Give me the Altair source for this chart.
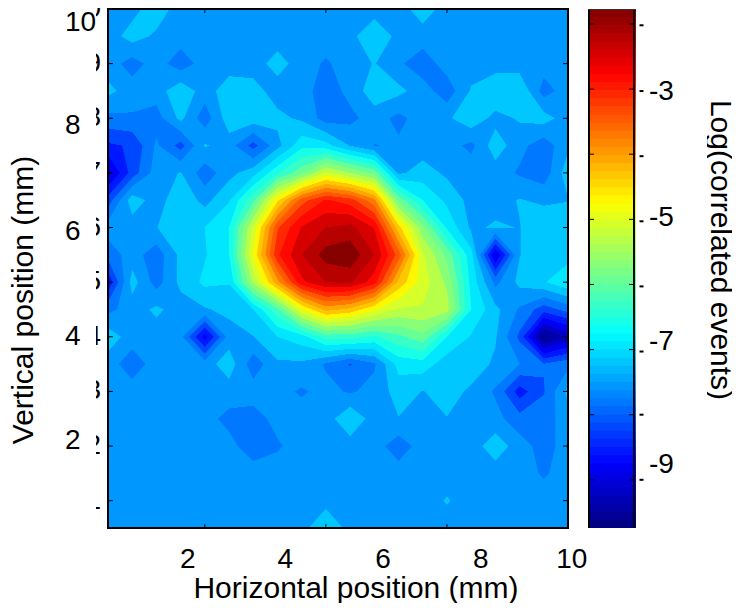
import math
import altair as alt
import pandas as pd

alt.data_transformers.disable_max_rows()

# Log(correlated events), read on a 20 x 20 grid; rows top (10 mm) to bottom (0.5 mm)
Z = [
 [-7.65,-7.6,-7.3,-7.65,-7.65,-7.65,-7.65,-7.65,-7.65,-7.65,-7.65,-7.65,-7.65,-7.3,-7.65,-7.65,-7.65,-7.65,-7.65,-7.65],
 [-7.65,-7.35,-7.55,-7.65,-7.65,-7.65,-7.65,-7.65,-7.65,-7.65,-7.6,-7.2,-7.6,-7.65,-7.65,-7.65,-7.65,-7.65,-7.65,-7.65],
 [-7.65,-7.95,-7.65,-8.0,-7.65,-7.65,-7.65,-7.35,-7.65,-7.85,-7.65,-7.47,-7.75,-8.0,-7.65,-7.65,-7.65,-7.65,-7.65,-7.65],
 [-7.4,-7.65,-7.65,-7.25,-7.65,-7.3,-7.35,-7.65,-7.65,-8.0,-7.7,-7.3,-7.4,-7.65,-8.0,-7.45,-7.2,-7.2,-7.95,-7.65],
 [-7.9,-7.85,-7.95,-7.4,-8.0,-7.3,-7.3,-7.4,-7.55,-7.95,-7.9,-7.65,-7.9,-7.65,-7.55,-7.25,-7.6,-7.45,-7.35,-7.65],
 [-8.5,-8.4,-7.75,-8.25,-7.45,-7.65,-8.25,-7.6,-6.95,-7.05,-7.5,-7.82,-7.75,-7.65,-7.65,-7.9,-7.3,-7.7,-8.0,-7.55],
 [-9.2,-8.3,-7.65,-7.47,-8.0,-7.6,-7.3,-6.6,-6.0,-5.2,-5.6,-6.0,-7.55,-7.35,-7.55,-7.6,-7.65,-7.85,-8.0,-7.3],
 [-8.3,-7.3,-7.65,-7.25,-7.6,-7.2,-6.3,-4.7,-3.5,-3.0,-3.2,-3.9,-6.0,-6.85,-7.25,-7.6,-7.6,-7.47,-7.55,-7.5],
 [-7.65,-7.65,-7.5,-7.25,-7.17,-6.85,-5.2,-3.4,-2.7,-2.4,-2.3,-2.75,-4.5,-5.8,-6.9,-7.55,-7.45,-7.5,-7.25,-7.3],
 [-8.0,-7.65,-8.0,-7.4,-7.2,-6.85,-4.9,-3.1,-2.41,-1.95,-1.85,-2.41,-3.5,-5.2,-6.0,-7.05,-9.1,-7.5,-7.25,-7.3],
 [-8.7,-7.35,-7.95,-7.4,-7.1,-7.15,-5.5,-4.1,-2.8,-2.4,-2.35,-2.9,-4.4,-5.1,-5.65,-6.95,-7.9,-7.4,-7.2,-6.9],
 [-7.9,-7.65,-7.42,-7.65,-7.52,-7.4,-7.17,-6.3,-4.95,-4.2,-4.4,-4.9,-5.3,-5.3,-5.45,-6.85,-7.4,-7.85,-8.3,-8.0],
 [-7.3,-7.65,-7.65,-7.7,-8.9,-7.65,-7.5,-7.17,-7.0,-6.4,-6.4,-6.6,-6.3,-6.0,-6.85,-7.2,-7.45,-8.2,-9.8,-9.3],
 [-7.65,-8.0,-7.65,-7.65,-7.65,-7.3,-8.0,-7.55,-7.55,-7.85,-8.15,-7.85,-7.05,-7.0,-7.35,-7.3,-7.55,-7.8,-8.1,-7.9],
 [-7.65,-7.65,-7.65,-7.65,-7.65,-7.65,-7.65,-7.7,-7.85,-7.7,-7.85,-7.7,-7.35,-7.5,-7.35,-7.55,-7.85,-8.6,-8.15,-7.4],
 [-7.65,-7.65,-7.65,-7.65,-7.7,-7.9,-7.95,-7.7,-7.65,-7.65,-7.2,-7.65,-7.5,-7.65,-7.5,-7.65,-7.7,-8.0,-7.95,-7.65],
 [-7.65,-7.65,-7.65,-7.65,-7.65,-7.7,-8.0,-7.85,-7.65,-7.65,-7.65,-7.65,-8.0,-7.65,-7.65,-7.65,-7.3,-7.65,-7.95,-7.65],
 [-7.65,-7.65,-7.65,-7.65,-7.65,-7.65,-7.65,-7.65,-7.65,-7.65,-7.65,-7.65,-7.65,-7.65,-7.65,-7.65,-7.65,-7.65,-7.85,-7.65],
 [-7.65,-7.65,-7.65,-7.65,-7.65,-7.65,-7.65,-7.65,-7.65,-7.65,-7.65,-7.65,-7.65,-7.65,-7.46,-7.65,-7.65,-7.65,-7.65,-7.65],
 [-7.65,-7.65,-7.65,-7.65,-7.65,-7.65,-7.65,-7.65,-7.65,-7.1,-7.65,-7.65,-7.65,-7.65,-7.65,-7.65,-7.65,-7.65,-7.65,-7.65],
]

x_ticks = [2.5, 5, 7.5, 10]
y_ticks = [1, 2, 3, 4, 5, 6, 7, 8, 9, 10]
x_labels = ["2", "4", "6", "8", "10"]
x_label_pos = [2.15, 4.16, 6.18, 8.2, 10.08]
y_labels = ["10", "8", "6", "4", "2"]
y_label_pos = [9.75, 7.85, 5.91, 4.0, 2.1]
cb_ticks = [-2, -3, -4, -5, -6, -7, -8, -9]
cb_dashes = [-2.02, -3.03, -4.03, -5.03, -6.03, -7.03, -8.0, -9.0]
cb_labels = ["-3", "-5", "-7", "-9"]
cb_label_pos = [-3.05, -4.98, -6.89, -8.78]

W, H = 460, 519
DOM = [0.5, 10]
CB = [-9.74, -1.77]
TOP_LEVEL, STEP, NBANDS = -2.09, 0.3176, 25
FONT = "Liberation Sans"
FS, TS = 28, 30


def jet(k):
    """MATLAB jet with 64 entries, k = 1..64."""
    t = (k - 0.5) / 64
    f = lambda a: max(0.0, min(1.0, a))
    r, g, b = f(min(4*t - 1.5, -4*t + 4.5)), f(min(4*t - 0.5, -4*t + 3.5)), f(min(4*t + 0.5, -4*t + 2.5))
    return "#%02x%02x%02x" % (round(r*255), round(g*255), round(b*255))


def band_colour(j):
    return jet(max(1, round(64 - 2.55 * j)))


def cell_polygons(i, j, level):
    """Marching-squares region z >= level inside cell (i, j), in grid units."""
    corners = [(i, j), (i+1, j), (i+1, j+1), (i, j+1)]
    vals = [Z[b][a] for a, b in corners]

    def cross(n, m):
        t = (level - vals[n]) / (vals[m] - vals[n])
        a, b = corners[n], corners[m]
        return (a[0] + t*(b[0]-a[0]), a[1] + t*(b[1]-a[1]))

    high = [v >= level for v in vals]
    if high[0] == high[2] and high[1] == high[3] and high[0] != high[1] and sum(vals) / 4 < level:
        out = []
        for n in range(4):
            if high[n]:
                out.append([corners[n], cross(n, (n+1) % 4), cross(n, (n+3) % 4)])
        return out
    pts = []
    for n in range(4):
        m = (n+1) % 4
        if high[n]:
            pts.append(corners[n])
        if high[n] != high[m]:
            pts.append(cross(n, m))
    return [pts]


def scan(pts, r):
    xs_ = []
    m = len(pts)
    for n in range(m):
        (x0, y0), (x1, y1) = pts[n], pts[(n+1) % m]
        if (y0 <= r) != (y1 <= r):
            xs_.append(x0 + (r - y0) / (y1 - y0) * (x1 - x0))
    xs_.sort()
    return [(xs_[n], xs_[n+1]) for n in range(0, len(xs_) - 1, 2)]


# filled contours: per level the cell polygons, swept into horizontal runs
levels = [TOP_LEVEL - j * STEP for j in range(NBANDS)]
polys = {}
for lj, lv in enumerate(levels):
    cells = {}
    for j in range(19):
        row_cells = []
        for i in range(19):
            vals = [Z[j][i], Z[j][i+1], Z[j+1][i], Z[j+1][i+1]]
            if max(vals) >= lv:
                row_cells += cell_polygons(i, j, lv)
        cells[j] = row_cells
    polys[lj] = cells

rows = []
for py in range(H):
    r = (py + 0.5) / H * 19
    jr = min(int(r), 18)
    y0 = round(10 - py / H * 9.5, 3)
    y1 = round(10 - min(py + 1.3, H) / H * 9.5, 3)
    painted = [(NBANDS, [(0.0, 19.0)])]
    for lj in range(NBANDS - 1, -1, -1):
        ivs = []
        for poly in polys[lj][jr]:
            ivs += scan(poly, r)
        ivs.sort()
        merged = []
        for a, b in ivs:
            if merged and a <= merged[-1][1] + 1e-6:
                merged[-1] = (merged[-1][0], max(b, merged[-1][1]))
            else:
                merged.append((a, b))
        if not merged:
            continue
        if merged[0][0] <= 1e-6 and merged[-1][1] >= 19 - 1e-6 and len(merged) == 1:
            painted = []
        painted.append((lj, merged))
    for lj, merged in painted:
        c = band_colour(lj)
        for a, b in merged:
            rows.append(dict(x=round(0.5 + a * 0.5, 3), x2=round(0.5 + b * 0.5, 3), y=y0, y2=y1, c=c))
field = pd.DataFrame(rows)

xs = alt.Scale(domain=DOM, nice=False, zero=False)
ys = alt.Scale(domain=DOM, nice=False, zero=False)
cs = alt.Scale(domain=CB, nice=False, zero=False)

contours = alt.Chart(field).mark_rect(strokeWidth=0).encode(
    x=alt.X("x:Q", scale=xs, axis=None), x2="x2:Q",
    y=alt.Y("y:Q", scale=ys, axis=None), y2="y2:Q",
    color=alt.Color("c:N", scale=None),
)

ydf = pd.DataFrame({"v": y_ticks, "t": [str(v) for v in y_ticks]})
xdf = pd.DataFrame({"v": x_ticks})
frag = alt.Chart(ydf).mark_text(font=FONT, fontSize=FS, align="right", baseline="middle", color="black", clip=False).encode(
    x=alt.value(-7), y=alt.Y("v:Q", scale=ys, axis=None), text="t:N")
cover = alt.Chart(ydf).mark_rect(color="white").encode(
    x=alt.value(-100), x2=alt.value(-12), y=alt.value(-2), y2=alt.value(560))

tick = lambda a, b: alt.Chart(ydf).mark_rule(color="black", strokeWidth=1).encode(
    x=alt.value(a), x2=alt.value(b), y=alt.Y("v:Q", scale=ys, axis=None))
ytick_l, ytick_r = tick(0, 5), tick(455, 460)
xtick = lambda a, b: alt.Chart(xdf).mark_rule(color="black", strokeWidth=1).encode(
    x=alt.X("v:Q", scale=xs, axis=None), y=alt.value(a), y2=alt.value(b))
xtick_t, xtick_b = xtick(0, 4), xtick(515, 519)

frame = alt.Chart(ydf).mark_rect(fillOpacity=0, stroke="black", strokeWidth=1.6).encode(
    x=alt.value(0), x2=alt.value(W), y=alt.value(0), y2=alt.value(H))

xl = alt.Chart(pd.DataFrame({"v": x_label_pos, "t": x_labels})).mark_text(
    font=FONT, fontSize=FS, align="center", baseline="middle", color="black").encode(
    x=alt.X("v:Q", scale=xs, axis=None), y=alt.value(551), text="t:N")
yl = alt.Chart(pd.DataFrame({"v": y_label_pos, "t": y_labels})).mark_text(
    font=FONT, fontSize=FS, align="left", baseline="middle", color="black").encode(
    x=alt.value(-43), y=alt.Y("v:Q", scale=ys, axis=None), text="t:N")

# colour bar
edges = [CB[0] + (CB[1] - CB[0]) * i / 64 for i in range(65)]
bar = alt.Chart(pd.DataFrame({
    "a": edges[:-1], "b": [min(e + 0.03, CB[1]) for e in edges[1:]], "c": [jet(k) for k in range(1, 65)]
})).mark_rect(strokeWidth=0).encode(
    x=alt.value(481), x2=alt.value(528),
    y=alt.Y("a:Q", scale=cs, axis=None), y2="b:Q",
    color=alt.Color("c:N", scale=None))
cbt = pd.DataFrame({"v": cb_ticks})
cb_tick = lambda a, b: alt.Chart(cbt).mark_rule(color="black", strokeWidth=1).encode(
    x=alt.value(a), x2=alt.value(b), y=alt.Y("v:Q", scale=cs, axis=None))
cb_l, cb_r = cb_tick(481, 486), cb_tick(521, 526)
cb_dash = alt.Chart(pd.DataFrame({"v": cb_dashes})).mark_rule(color="black", strokeWidth=2).encode(
    x=alt.value(531.5), x2=alt.value(535.5), y=alt.Y("v:Q", scale=cs, axis=None))
side = lambda a: alt.Chart(cbt).mark_rule(color="black", strokeWidth=1.5).encode(
    x=alt.value(a), y=alt.value(0.5), y2=alt.value(H))
cb_top = alt.Chart(cbt).mark_rule(color="#333333", strokeWidth=1).encode(
    x=alt.value(480.5), x2=alt.value(526.5), y=alt.value(0.5))
cb_text = alt.Chart(pd.DataFrame({"v": cb_label_pos, "t": cb_labels})).mark_text(
    font=FONT, fontSize=FS, align="left", baseline="middle", color="black").encode(
    x=alt.value(541), y=alt.Y("v:Q", scale=cs, axis=None), text="t:N")


def label(text, px, py, angle):
    return alt.Chart(pd.DataFrame({"t": [text]})).mark_text(
        font=FONT, fontSize=TS, align="center", baseline="alphabetic", angle=angle, color="black"
    ).encode(x=alt.value(px), y=alt.value(py), text="t:N")


xtitle = label("Horizontal position (mm)", 248, 589, 0)
ytitle = label("Vertical position (mm)", -75, 291, 270)
ctitle = label("Log(correlated events)", 603, 241, 90)
ccover = alt.Chart(cbt).mark_rect(color="white").encode(
    x=alt.value(585), x2=alt.value(599), y=alt.value(60), y2=alt.value(440))

chart = alt.layer(
    frag, cover, contours, ytick_l, ytick_r, xtick_t, xtick_b, frame, xl, yl,
    bar, cb_l, cb_r, side(481), side(526), cb_top, cb_dash, cb_text,
    xtitle, ytitle, ctitle, ccover,
).resolve_scale(y="independent").properties(
    width=W, height=H,
    padding={"left": 100, "top": 1, "right": 164, "bottom": 75},
    autosize=alt.AutoSizeParams(type="none"),
).configure_view(stroke=None)

chart.save("out.html", embed_options={"renderer": "svg", "actions": False})
